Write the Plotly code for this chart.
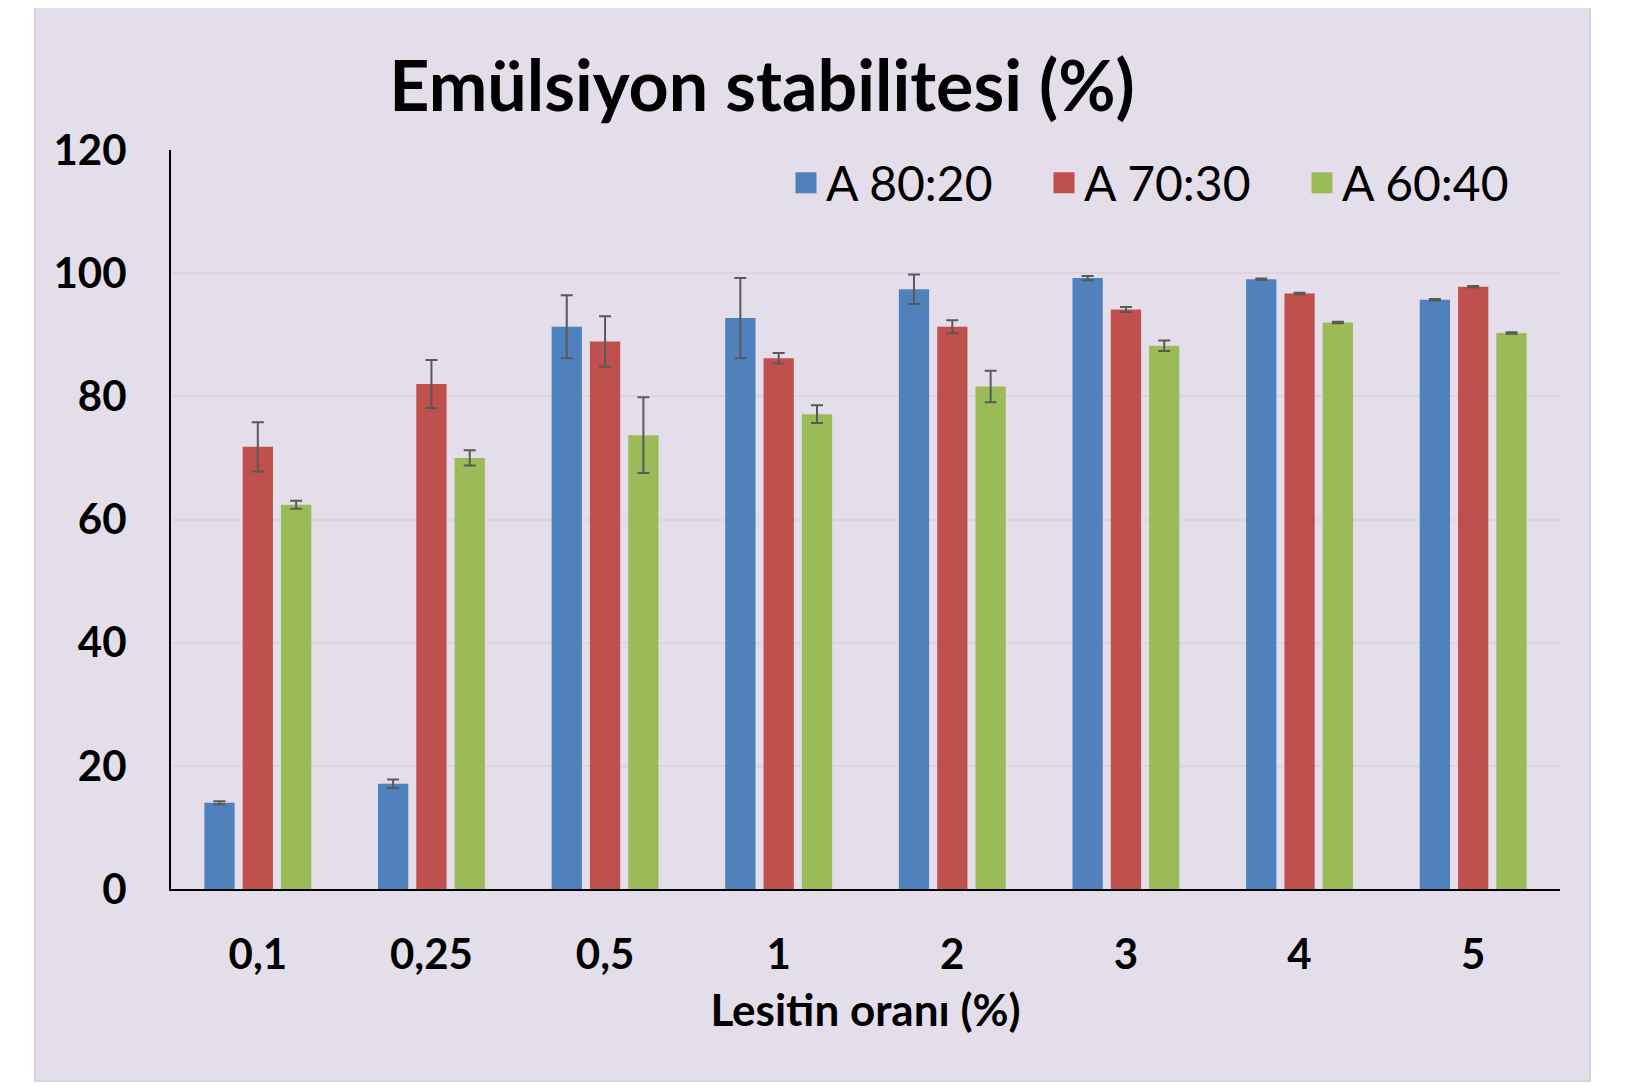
import plotly.graph_objects as go

categories = ["0,1", "0,25", "0,5", "1", "2", "3", "4", "5"]
series_names = ["A 80:20", "A 70:30", "A 60:40"]
a80_20 = [14.0, 17.1, 91.3, 92.7, 97.4, 99.2, 99.0, 95.7]
a80_20_err = [0.25, 0.7, 5.1, 6.5, 2.4, 0.35, 0.12, 0.12]
a70_30 = [71.8, 82.0, 88.9, 86.2, 91.3, 94.1, 96.7, 97.8]
a70_30_err = [4.0, 3.9, 4.1, 0.85, 1.05, 0.4, 0.12, 0.12]
a60_40 = [62.4, 70.0, 73.7, 77.1, 81.6, 88.2, 92.0, 90.3]
a60_40_err = [0.65, 1.25, 6.15, 1.45, 2.55, 0.85, 0.12, 0.12]
y_ticks = [0, 20, 40, 60, 80, 100, 120]

colors = ["#4F81BD", "#C0504D", "#9BBB59"]
values = [a80_20, a70_30, a60_40]
errors = [a80_20_err, a70_30_err, a60_40_err]

FONT = "Lato"
fig = go.Figure()
for name, vals, errs, col in zip(series_names, values, errors, colors):
    fig.add_trace(go.Bar(
        x=categories, y=vals, name=name, showlegend=False,
        marker=dict(color=col, line=dict(width=0)),
        error_y=dict(type="data", array=errs, visible=True,
                     color="#595959", thickness=2, width=6),
    ))
# legend entries
for name, col in zip(series_names, colors):
    fig.add_trace(go.Scatter(
        x=[None], y=[None], mode="markers", name=name,
        marker=dict(symbol="square", size=30, color=col,
                    line=dict(color=col, width=5)),
    ))

W, H = 1642, 1084
L, R, T, B = 163, 90, 142, 203
pw, ph = W - L - R, H - T - B
bottom = H - B

fig.add_shape(type="rect", xref="paper", yref="paper", layer="below",
              x0=(27 - L) / pw, x1=(1582 - L) / pw,
              y0=(bottom - 1073) / ph, y1=(bottom + 8) / ph,
              fillcolor="#E3DEEA", line=dict(color="#D6D3DA", width=2))

fig.update_layout(
    width=W, height=H,
    margin=dict(l=L, r=R, t=T, b=B, autoexpand=False),
    paper_bgcolor="white", plot_bgcolor="rgba(0,0,0,0)",
    barmode="group", bargap=0.338, bargroupgap=0.21,
    title=dict(text="<b>Emülsiyon stabilitesi (%)</b>",
               font=dict(family=FONT, size=70, color="black"),
               x=754 / W, xanchor="center", y=1 - 78 / H, yanchor="middle"),
    font=dict(family=FONT, color="black"),
    legend=dict(orientation="h", x=(778 - L) / pw, xanchor="left",
                y=(bottom - 175) / ph, yanchor="middle",
                font=dict(family=FONT, size=48, color="black"),
                bgcolor="rgba(0,0,0,0)",
                entrywidth=213, entrywidthmode="pixels",
                itemsizing="trace"),
    xaxis=dict(showgrid=False, showline=True, linecolor="black", linewidth=2,
               ticks="", tickfont=dict(family=FONT, size=42, color="black", weight="bold"),
               ticklabelstandoff=28,
               title=dict(text="<b>Lesitin oranı (%)</b>",
                          font=dict(family=FONT, size=44, color="black"),
                          standoff=18)),
    yaxis=dict(range=[0, 120], tickvals=y_ticks, showgrid=True,
               gridcolor="#D9D6DD", gridwidth=1.5,
               showline=True, linecolor="black", linewidth=2, ticks="",
               zeroline=False,
               tickfont=dict(family=FONT, size=42, color="black", weight="bold"),
               ticklabelstandoff=34),
)

fig.write_html("out.html")
